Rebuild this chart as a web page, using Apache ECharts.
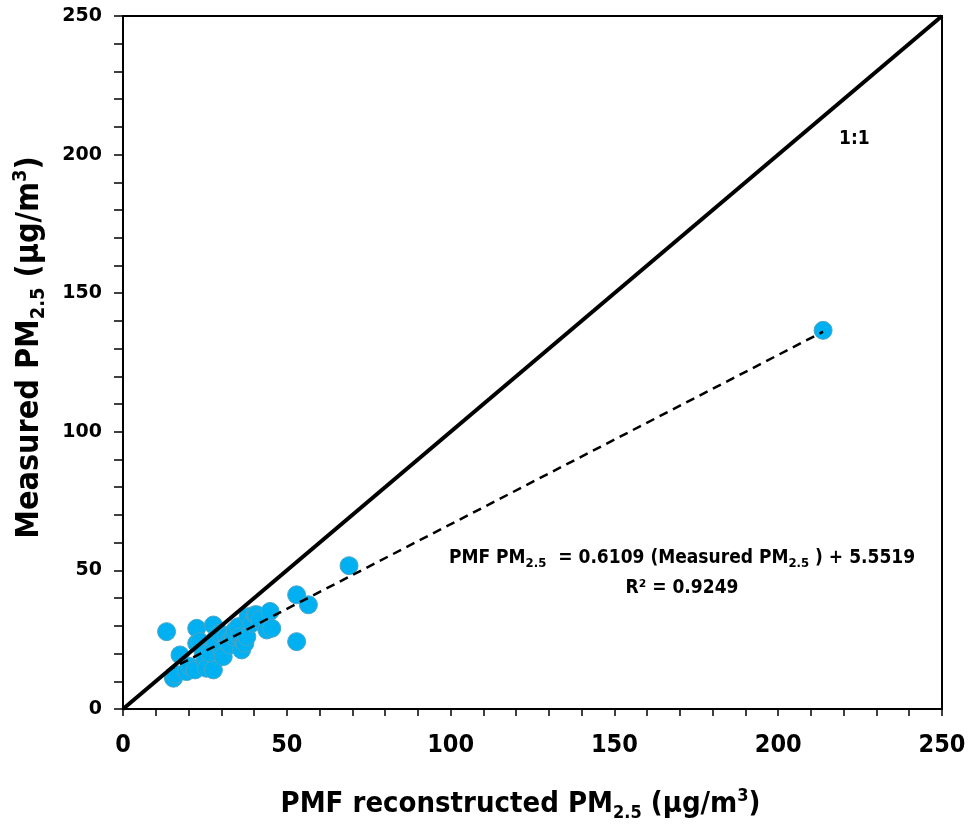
<!DOCTYPE html>
<html><head><meta charset="utf-8">
<script src="https://cdn.jsdelivr.net/npm/echarts@6/dist/echarts.min.js"></script>
<style>html,body{margin:0;padding:0;background:#fff}#c{width:971px;height:828px}</style>
</head><body><div id="c"></div>
<script>
// ---- data ----
const pmfReconstructed = [13.3, 15.4, 16.0, 17.4, 19.4, 20.5, 22.0, 22.5, 22.5, 23.5, 24.5, 25.0, 25.5, 26.6, 27.6, 27.6, 28.0, 29.6, 30.1, 30.6, 31.6, 32.1, 32.7, 33.7, 34.2, 35.2, 35.7, 36.2, 36.7, 37.2, 37.8, 38.2, 39.3, 40.3, 40.8, 41.8, 43.9, 44.9, 45.4, 53.0, 53.0, 56.6, 69.0, 213.7];
const measuredPM = [27.9, 11.1, 12.5, 19.5, 13.5, 15.3, 14.1, 29.1, 23.7, 24.3, 20.1, 17.7, 14.7, 20.1, 30.3, 14.1, 24.9, 27.4, 21.3, 18.9, 26.1, 23.7, 23.1, 26.1, 28.5, 29.7, 26.1, 21.3, 24.3, 23.7, 26.1, 33.3, 30.9, 34.0, 34.0, 32.2, 28.5, 35.2, 29.1, 41.2, 24.3, 37.6, 51.7, 136.6];
const axisRange = [0, 250];
const tickStep = 10;
const labelStep = 50;
const oneToOneLine = [[0, 0], [250, 250]];
const trendSlope = 0.6109;
const trendIntercept = 5.5519;
const rSquared = '0.9249';
const xTitle = ['PMF reconstructed PM', '2.5', ' (µg/m', '3', ')'];
const yTitle = ['Measured PM', '2.5', ' (µg/m', '3', ')'];

// ---- build ----
const points = pmfReconstructed.map((x, i) => [x, measuredPM[i]]);
const xMin = Math.min(...pmfReconstructed), xMax = Math.max(...pmfReconstructed);
const trendLine = [[xMin, trendSlope * xMin + trendIntercept], [xMax, trendSlope * xMax + trendIntercept]];

const NARROW = "'Liberation Sans Narrow', 'DejaVu Sans Condensed', 'Roboto Condensed', Roboto, sans-serif";
const WIDE = "'DejaVu Sans', Verdana, sans-serif";

function titleRich(size) {
  const s = Math.round(size * 0.62);
  return {
    b: { fontFamily: NARROW, fontWeight: 'bold', fontSize: size, color: '#000', lineHeight: size + 6 },
    sub: { fontFamily: NARROW, fontWeight: 'bold', fontSize: s, color: '#000', lineHeight: s + 2, verticalAlign: 'bottom' },
    sup: { fontFamily: NARROW, fontWeight: 'bold', fontSize: s, color: '#000', lineHeight: s + 2, verticalAlign: 'top' }
  };
}
function titleText(p) {
  return '{b|' + p[0] + '}{sub|' + p[1] + '}{b|' + p[2] + '}{sup|' + p[3] + '}{b|' + p[4] + '}';
}
const fmt = v => (v % labelStep === 0 ? String(v) : '');

const chart = echarts.init(document.getElementById('c'), null, { renderer: 'canvas' });
chart.setOption({
  animation: false,
  backgroundColor: '#fff',
  grid: { left: 123, right: 29, top: 16, bottom: 119, show: true, borderColor: '#000', borderWidth: 2, backgroundColor: 'transparent' },
  xAxis: {
    type: 'value', min: axisRange[0], max: axisRange[1], interval: tickStep,
    axisLine: { show: true, onZero: false, lineStyle: { color: '#000', width: 2 } },
    axisTick: { show: true, length: 7, lineStyle: { color: '#000', width: 1.5 } },
    splitLine: { show: false },
    axisLabel: { formatter: fmt, margin: 24, color: '#000', fontFamily: NARROW, fontWeight: 'bold', fontSize: 25 },
    name: titleText(xTitle), nameLocation: 'middle', nameGap: 78,
    nameTextStyle: { rich: titleRich(29), padding: [0, 24, 0, 0] }
  },
  yAxis: {
    type: 'value', min: axisRange[0], max: axisRange[1], interval: tickStep,
    axisLine: { show: true, onZero: false, lineStyle: { color: '#000', width: 2 } },
    axisTick: { show: true, length: 9, lineStyle: { color: '#000', width: 1.5 } },
    splitLine: { show: false },
    axisLabel: { formatter: fmt, margin: 21, color: '#000', fontFamily: WIDE, fontWeight: 'bold', fontSize: 19 },
    name: titleText(yTitle), nameLocation: 'middle', nameGap: 74, nameRotate: 90,
    nameTextStyle: { rich: titleRich(32), padding: [0, 0, 0, 30] }
  },
  series: [
    {
      type: 'scatter', data: points, symbolSize: 18, z: 2,
      itemStyle: { color: '#00B0F0', borderColor: '#4AA6C8', borderWidth: 1, opacity: 1 }
    },
    {
      type: 'line', data: oneToOneLine, symbol: 'none', z: 4,
      lineStyle: { color: '#000', width: 4 }
    },
    {
      type: 'line', data: trendLine, symbol: 'none', z: 3,
      lineStyle: { color: '#000', width: 2.5, type: [9, 6] }
    }
  ],
  graphic: [
    { type: 'text', left: 839, top: 130, style: { text: '1:1', fontFamily: NARROW, fontWeight: 'bold', fontSize: 19, fill: '#000' } },
    { type: 'text', x: 682, y: 558, style: {
        text: '{b|PMF PM}{s|2.5}{b|  = 0.6109 (Measured PM}{s|2.5}{b| ) + 5.5519}',
        align: 'center', verticalAlign: 'middle',
        rich: {
          b: { fontFamily: NARROW, fontWeight: 'bold', fontSize: 19, fill: '#000', lineHeight: 24 },
          s: { fontFamily: NARROW, fontWeight: 'bold', fontSize: 13, fill: '#000', lineHeight: 15, verticalAlign: 'bottom' }
        } } },
    { type: 'text', x: 682, y: 588, style: {
        text: 'R² = ' + rSquared, align: 'center', verticalAlign: 'middle',
        fontFamily: NARROW, fontWeight: 'bold', fontSize: 19, fill: '#000' } }
  ]
});
</script>
</body></html>
